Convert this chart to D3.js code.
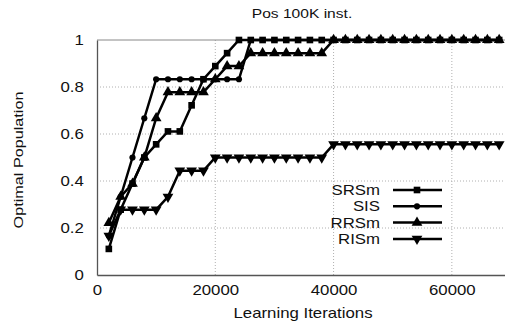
<!DOCTYPE html>
<html>
<head>
<meta charset="utf-8">
<script src="https://cdn.jsdelivr.net/npm/d3@7"></script>
<style>
  body { margin: 0; background: #fff; }
  svg { display: block; font-family: "Liberation Sans", Arial, sans-serif; }
</style>
</head>
<body>
<svg id="chart" width="505" height="328"></svg>
<script>
// iterations at which every run was sampled
const iterations = [2000, 4000, 6000, 8000, 10000, 12000, 14000, 16000, 18000, 20000,
  22000, 24000, 26000, 28000, 30000, 32000, 34000, 36000, 38000, 40000,
  42000, 44000, 46000, 48000, 50000, 52000, 54000, 56000, 58000, 60000,
  62000, 64000, 66000, 68000];

const seriesNames = ["SRSm", "SIS", "RRSm", "RISm"];

const srsm = [0.111, 0.278, 0.389, 0.5, 0.556, 0.611, 0.611, 0.722, 0.833, 0.889,
  0.944, 1, 1, 1, 1, 1, 1, 1, 1, 1,
  1, 1, 1, 1, 1, 1, 1, 1, 1, 1,
  1, 1, 1, 1];
const sis = [0.167, 0.333, 0.5, 0.667, 0.833, 0.833, 0.833, 0.833, 0.833, 0.833,
  0.833, 0.833, 1, 1, 1, 1, 1, 1, 1, 1,
  1, 1, 1, 1, 1, 1, 1, 1, 1, 1,
  1, 1, 1, 1];
const rrsm = [0.222, 0.333, 0.389, 0.5, 0.667, 0.778, 0.778, 0.778, 0.778, 0.833,
  0.889, 0.889, 0.944, 0.944, 0.944, 0.944, 0.944, 0.944, 0.944, 1,
  1, 1, 1, 1, 1, 1, 1, 1, 1, 1,
  1, 1, 1, 1];
const rism = [0.167, 0.278, 0.278, 0.278, 0.278, 0.333, 0.444, 0.444, 0.444, 0.5,
  0.5, 0.5, 0.5, 0.5, 0.5, 0.5, 0.5, 0.5, 0.5, 0.556,
  0.556, 0.556, 0.556, 0.556, 0.556, 0.556, 0.556, 0.556, 0.556, 0.556,
  0.556, 0.556, 0.556, 0.556];

const xTicks = [0, 20000, 40000, 60000];
const yTicks = [0, 0.2, 0.4, 0.6, 0.8, 1];

const allSeries = [srsm, sis, rrsm, rism];
const symbols = [d3.symbolSquare, d3.symbolCircle, d3.symbolTriangle, d3.symbolTriangle];

const svg = d3.select("#chart");
const padLeft = 97, padTop = 40, padBottom = 275;
const SX = 1.2; // text in the original is a bit wider than normal

const x = d3.scaleLinear().domain([0, 70000]).range([padLeft, 511]);
const y = d3.scaleLinear().domain([0, 1]).range([padBottom, padTop]);

// grid
const grid = svg.append("g").attr("stroke", "#b0b0b0").attr("stroke-dasharray", "1,2");
grid.selectAll("line.gy").data(yTicks.filter(v => v > 0 && v < 1)).enter().append("line")
  .attr("x1", padLeft).attr("x2", 505)
  .attr("y1", d => y(d)).attr("y2", d => y(d));
grid.selectAll("line.gx").data(xTicks.filter(v => v > 0)).enter().append("line")
  .attr("x1", d => x(d)).attr("x2", d => x(d))
  .attr("y1", padTop).attr("y2", padBottom);

// frame
svg.append("line").attr("x1", padLeft).attr("x2", 505).attr("y1", padTop).attr("y2", padTop)
  .attr("stroke", "#888").attr("stroke-width", 1);

svg.append("g")
  .attr("transform", "translate(" + padLeft + ",0)")
  .call(d3.axisLeft(y).tickValues(yTicks).tickSize(0).tickPadding(11).tickFormat(d3.format("")))
  .call(g => g.select(".domain").attr("stroke", "#555").attr("stroke-width", 1.3))
  .selectAll("text").attr("font-size", 14).attr("fill", "#111")
  .attr("font-family", "Liberation Sans, Arial, sans-serif")
  .attr("transform", "scale(" + SX + ",1)");

svg.append("g")
  .attr("transform", "translate(0," + padBottom + ")")
  .call(d3.axisBottom(x).tickValues(xTicks).tickSize(0).tickPadding(10).tickFormat(d3.format("d")))
  .call(g => g.select(".domain").attr("stroke", "#555").attr("stroke-width", 1.3))
  .selectAll("text").attr("font-size", 14).attr("fill", "#111")
  .attr("font-family", "Liberation Sans, Arial, sans-serif")
  .attr("transform", "scale(" + SX + ",1)");

// titles
const label = (tx, ty, rot, size, anchor, str) =>
  svg.append("text")
    .attr("transform", "translate(" + tx + "," + ty + ")" + (rot ? " rotate(" + rot + ")" : "") + " scale(" + SX + ",1)")
    .attr("text-anchor", anchor).attr("font-size", size).attr("fill", "#111").text(str);

label(302, 18, 0, 13, "middle", "Pos 100K inst.");
label(303, 318, 0, 14, "middle", "Learning Iterations");
label(23, 160, -90, 13.5, "middle", "Optimal Population");

// lines + markers
const line = d3.line().x((d, i) => x(iterations[i])).y(d => y(d));
const markerPath = (i) => {
  const size = i === 1 ? 30 : i === 0 ? 44 : 50;
  return d3.symbol().type(symbols[i]).size(size)();
};
const markerRot = (i) => i === 3 ? " rotate(180)" : "";

allSeries.forEach((vals, i) => {
  svg.append("path").datum(vals).attr("d", line)
    .attr("fill", "none").attr("stroke", "#000").attr("stroke-width", 2.5);
  svg.append("g").selectAll("path").data(vals).enter().append("path")
    .attr("d", markerPath(i))
    .attr("transform", (d, j) => "translate(" + x(iterations[j]) + "," + y(d) + ")" + markerRot(i))
    .attr("fill", "#000");
});

// legend
seriesNames.forEach((name, i) => {
  const ly = 190 + i * 16.3;
  label(380, ly + 5, 0, 14, "end", name);
  svg.append("line").attr("x1", 393).attr("x2", 442).attr("y1", ly).attr("y2", ly)
    .attr("stroke", "#000").attr("stroke-width", 2.5);
  svg.append("path").attr("d", markerPath(i))
    .attr("transform", "translate(417," + ly + ")" + markerRot(i)).attr("fill", "#000");
});
</script>
</body>
</html>
